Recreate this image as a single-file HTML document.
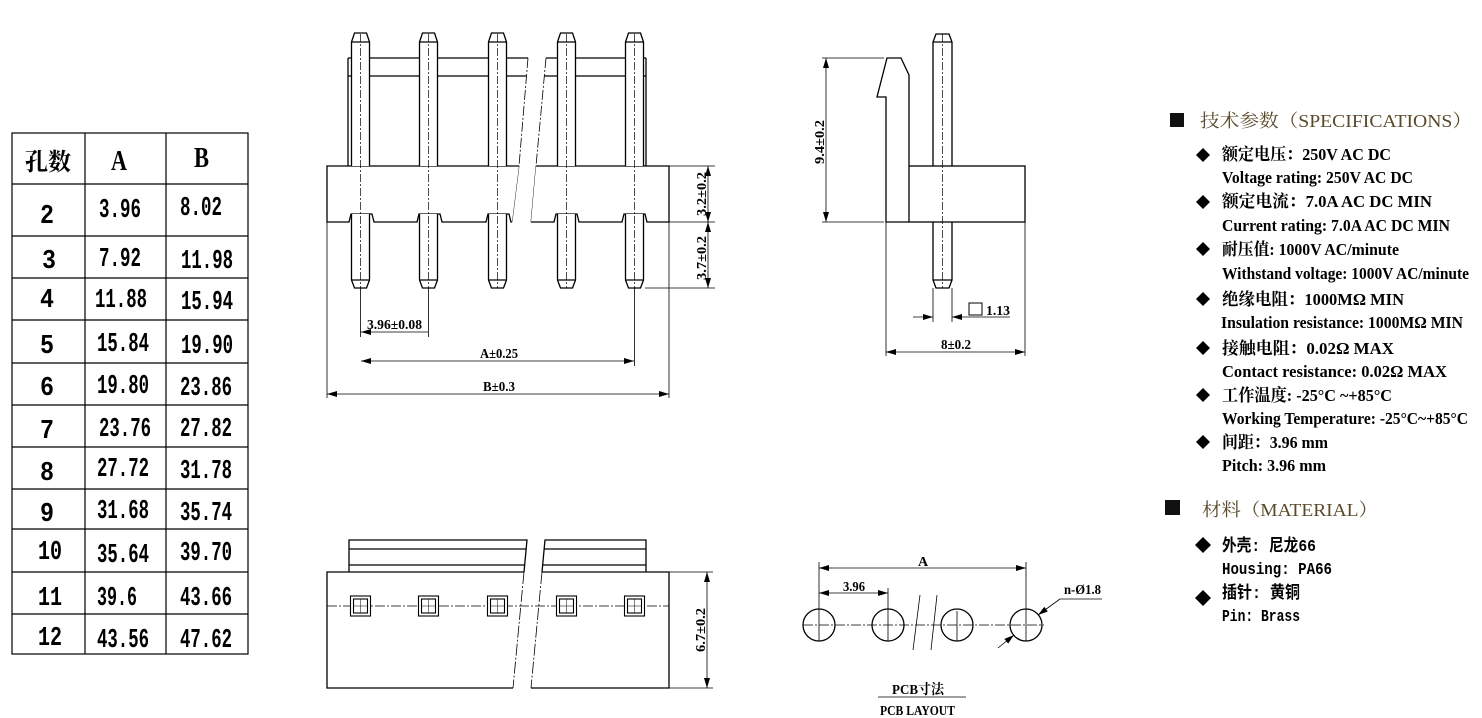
<!DOCTYPE html>
<html><head><meta charset="utf-8"><style>
html,body{margin:0;padding:0;background:#fff;}
svg{display:block;}
.t{font-family:"Liberation Serif","Noto Serif CJK SC","Noto Sans CJK SC",serif;font-weight:bold;fill:#000;}
.m{font-family:"Liberation Mono","Noto Sans CJK SC",monospace;font-weight:bold;fill:#000;}
.c{font-family:"Liberation Serif","Noto Serif CJK SC",serif;fill:#5a4a2a;}
</style></head><body>
<svg width="1482" height="718" viewBox="0 0 1482 718" xmlns="http://www.w3.org/2000/svg">
<defs>
<marker id="ar" viewBox="0 0 10 6" refX="10" refY="3" markerWidth="10" markerHeight="6" orient="auto-start-reverse" markerUnits="userSpaceOnUse"><path d="M0,0 L10,3 L0,6 z" fill="#000"/></marker>
</defs>
<g fill="none" stroke="#000" stroke-width="1.2">
<rect x="12" y="133" width="236" height="521"/>
<line x1="85" y1="133" x2="85" y2="654"/><line x1="166" y1="133" x2="166" y2="654"/>
<path d="M12 184H248M12 236H248M12 278H248M12 320H248M12 363H248M12 405H248M12 447H248M12 489H248M12 529H248M12 572H248M12 614H248"/>
</g>
<g class="t" font-size="28">
<text x="25" y="170" font-size="24" textLength="46" lengthAdjust="spacingAndGlyphs">孔数</text>
<text x="111" y="170" textLength="16" lengthAdjust="spacingAndGlyphs">A</text>
<text x="194" y="167" textLength="15" lengthAdjust="spacingAndGlyphs">B</text>
</g>
<g class="m" font-size="27">
<text x="40" y="223" textLength="14" lengthAdjust="spacingAndGlyphs">2</text><text x="99" y="217" textLength="42" lengthAdjust="spacingAndGlyphs">3.96</text><text x="180" y="215" textLength="42" lengthAdjust="spacingAndGlyphs">8.02</text>
<text x="42" y="268" textLength="14" lengthAdjust="spacingAndGlyphs">3</text><text x="99" y="266" textLength="42" lengthAdjust="spacingAndGlyphs">7.92</text><text x="181" y="268" textLength="52" lengthAdjust="spacingAndGlyphs">11.98</text>
<text x="40" y="307" textLength="14" lengthAdjust="spacingAndGlyphs">4</text><text x="95" y="307" textLength="52" lengthAdjust="spacingAndGlyphs">11.88</text><text x="181" y="309" textLength="52" lengthAdjust="spacingAndGlyphs">15.94</text>
<text x="40" y="353" textLength="14" lengthAdjust="spacingAndGlyphs">5</text><text x="97" y="351" textLength="52" lengthAdjust="spacingAndGlyphs">15.84</text><text x="181" y="353" textLength="52" lengthAdjust="spacingAndGlyphs">19.90</text>
<text x="40" y="395" textLength="14" lengthAdjust="spacingAndGlyphs">6</text><text x="97" y="393" textLength="52" lengthAdjust="spacingAndGlyphs">19.80</text><text x="180" y="395" textLength="52" lengthAdjust="spacingAndGlyphs">23.86</text>
<text x="40" y="438" textLength="14" lengthAdjust="spacingAndGlyphs">7</text><text x="99" y="436" textLength="52" lengthAdjust="spacingAndGlyphs">23.76</text><text x="180" y="436" textLength="52" lengthAdjust="spacingAndGlyphs">27.82</text>
<text x="40" y="480" textLength="14" lengthAdjust="spacingAndGlyphs">8</text><text x="97" y="476" textLength="52" lengthAdjust="spacingAndGlyphs">27.72</text><text x="180" y="478" textLength="52" lengthAdjust="spacingAndGlyphs">31.78</text>
<text x="40" y="521" textLength="14" lengthAdjust="spacingAndGlyphs">9</text><text x="97" y="518" textLength="52" lengthAdjust="spacingAndGlyphs">31.68</text><text x="180" y="520" textLength="52" lengthAdjust="spacingAndGlyphs">35.74</text>
<text x="38" y="559" textLength="24" lengthAdjust="spacingAndGlyphs">10</text><text x="97" y="562" textLength="52" lengthAdjust="spacingAndGlyphs">35.64</text><text x="180" y="560" textLength="52" lengthAdjust="spacingAndGlyphs">39.70</text>
<text x="38" y="605" textLength="24" lengthAdjust="spacingAndGlyphs">11</text><text x="97" y="605" textLength="40" lengthAdjust="spacingAndGlyphs">39.6</text><text x="180" y="605" textLength="52" lengthAdjust="spacingAndGlyphs">43.66</text>
<text x="38" y="645" textLength="24" lengthAdjust="spacingAndGlyphs">12</text><text x="97" y="647" textLength="52" lengthAdjust="spacingAndGlyphs">43.56</text><text x="180" y="647" textLength="52" lengthAdjust="spacingAndGlyphs">47.62</text>
</g>

<!-- FRONT VIEW -->
<g fill="none" stroke="#000" stroke-width="1.3">
<line x1="348" y1="58" x2="348" y2="166"/><line x1="646" y1="58" x2="646" y2="166"/>
<path d="M348 58H528M348 76H526M546 58H646M544 76H646"/>
<line x1="528" y1="58" x2="519" y2="166" stroke-width="0.8" stroke-dasharray="10 2 2 2"/>
<line x1="546" y1="58" x2="536" y2="166" stroke-width="0.8" stroke-dasharray="10 2 2 2"/>
<line x1="519" y1="166" x2="512" y2="222" stroke-width="0.8"/>
<line x1="536" y1="166" x2="531" y2="222" stroke-width="0.8"/>
<path d="M512 222 H511 L509 214 H488 L486 222 H442 L440 214 H419 L417 222 H374 L372 214 H351 L349 222 H327 V166 H519" fill="#fff"/>
<path d="M531 222 H554 L556 214 H577 L579 222 H622 L624 214 H645 L647 222 H669 V166 H536" fill="#fff"/>
</g>
<g fill="#fff" stroke="#000" stroke-width="1.3">
<path d="M351.5 166V42L354.5 33H366.5L369.5 42V166"/><path d="M351.5 42H369.5"/>
<path d="M419.5 166V42L422.5 33H434.5L437.5 42V166"/><path d="M419.5 42H437.5"/>
<path d="M488.5 166V42L491.5 33H503.5L506.5 42V166"/><path d="M488.5 42H506.5"/>
<path d="M557.5 166V42L560.5 33H572.5L575.5 42V166"/><path d="M557.5 42H575.5"/>
<path d="M625.5 166V42L628.5 33H640.5L643.5 42V166"/><path d="M625.5 42H643.5"/>
<path d="M351.5 214V280L354.5 288H366.5L369.5 280V214"/><path d="M351.5 280H369.5"/>
<path d="M419.5 214V280L422.5 288H434.5L437.5 280V214"/><path d="M419.5 280H437.5"/>
<path d="M488.5 214V280L491.5 288H503.5L506.5 280V214"/><path d="M488.5 280H506.5"/>
<path d="M557.5 214V280L560.5 288H572.5L575.5 280V214"/><path d="M557.5 280H575.5"/>
<path d="M625.5 214V280L628.5 288H640.5L643.5 280V214"/><path d="M625.5 280H643.5"/>
</g>
<g stroke="#000" stroke-width="0.7" stroke-dasharray="8 2 2 2" fill="none">
<path d="M360.5 34V288M428.5 34V288M497.5 34V288M566.5 34V288M634.5 34V288"/>
</g>
<g stroke="#000" stroke-width="0.8" fill="none">
<path d="M669 166H715M669 222H715M645 288H715"/>
<line x1="708" y1="166" x2="708" y2="222" marker-start="url(#ar)" marker-end="url(#ar)"/>
<line x1="708" y1="222" x2="708" y2="288" marker-start="url(#ar)" marker-end="url(#ar)"/>
<path d="M360.5 288V337M428.5 288V337M634.5 288V366M327 222V398M669 222V398"/>
<line x1="361" y1="332" x2="428" y2="332" marker-start="url(#ar)"/>
<line x1="361" y1="361" x2="634" y2="361" marker-start="url(#ar)" marker-end="url(#ar)"/>
<line x1="327" y1="394" x2="669" y2="394" marker-start="url(#ar)" marker-end="url(#ar)"/>
</g>
<g class="t" font-size="14">
<text x="367" y="329" textLength="55" lengthAdjust="spacingAndGlyphs">3.96±0.08</text>
<text x="480" y="358" textLength="38" lengthAdjust="spacingAndGlyphs">A±0.25</text>
<text x="483" y="391" textLength="32" lengthAdjust="spacingAndGlyphs">B±0.3</text>
<text transform="translate(706,216) rotate(-90)" textLength="44" lengthAdjust="spacingAndGlyphs">3.2±0.2</text>
<text transform="translate(706,280) rotate(-90)" textLength="44" lengthAdjust="spacingAndGlyphs">3.7±0.2</text>
</g>

<!-- SIDE VIEW -->
<g fill="none" stroke="#000" stroke-width="1.3">
<path d="M933 166V42L936 34H949L952 42V166M933 42H952"/>
<path d="M933 222V280L936 288H949L952 280V222M933 280H952"/>
<rect x="909" y="166" width="116" height="56"/>
<path d="M909 222H886V97H877L887 58H901L909 75V166"/>
</g>
<line x1="942.5" y1="34" x2="942.5" y2="288" stroke="#000" stroke-width="0.7" stroke-dasharray="8 2 2 2"/>
<g stroke="#000" stroke-width="0.8" fill="none">
<path d="M822 58H884M822 222H884"/>
<line x1="826" y1="58" x2="826" y2="222" marker-start="url(#ar)" marker-end="url(#ar)"/>
<path d="M933 288V322M952 288V322M886 222V356M1025 222V356"/>
<line x1="913" y1="317" x2="933" y2="317" marker-end="url(#ar)"/>
<line x1="1010" y1="317" x2="952" y2="317" marker-end="url(#ar)"/>
<line x1="886" y1="352" x2="1025" y2="352" marker-start="url(#ar)" marker-end="url(#ar)"/>
<rect x="969" y="303" width="13" height="12" stroke-width="1"/>
</g>
<g class="t" font-size="14">
<text x="986" y="315" textLength="24" lengthAdjust="spacingAndGlyphs">1.13</text>
<text x="941" y="349" textLength="30" lengthAdjust="spacingAndGlyphs">8±0.2</text>
<text transform="translate(824,164) rotate(-90)" textLength="44" lengthAdjust="spacingAndGlyphs">9.4±0.2</text>
</g>

<!-- BOTTOM VIEW -->
<g fill="none" stroke="#000" stroke-width="1.3">
<path d="M349 572V540H527L524 572M349 549H526M349 565H525"/>
<path d="M542 572L545 540H646V572M544 549H646M543 565H646"/>
<path d="M524 572H327V688H513"/>
<path d="M542 572H669V688H531"/>
<line x1="542" y1="572" x2="531" y2="688" stroke-width="0.8" stroke-dasharray="12 2 2 2"/>
<line x1="524" y1="572" x2="513" y2="688" stroke-width="0.8" stroke-dasharray="12 2 2 2"/>
</g>
<line x1="327" y1="606" x2="669" y2="606" stroke="#000" stroke-width="0.7" stroke-dasharray="10 2 2 2"/>
<g fill="#fff" stroke="#000" stroke-width="1.1">
<rect x="350.5" y="596" width="20" height="20"/><rect x="353.5" y="599" width="14" height="14"/>
<rect x="418.5" y="596" width="20" height="20"/><rect x="421.5" y="599" width="14" height="14"/>
<rect x="487.5" y="596" width="20" height="20"/><rect x="490.5" y="599" width="14" height="14"/>
<rect x="556.5" y="596" width="20" height="20"/><rect x="559.5" y="599" width="14" height="14"/>
<rect x="624.5" y="596" width="20" height="20"/><rect x="627.5" y="599" width="14" height="14"/>
</g>
<g stroke="#000" stroke-width="0.5" fill="none">
<path d="M360.5 599V613M353.5 606H367.5M428.5 599V613M421.5 606H435.5M497.5 599V613M490.5 606H504.5M566.5 599V613M559.5 606H573.5M634.5 599V613M627.5 606H641.5"/>
</g>
<g stroke="#000" stroke-width="0.8" fill="none">
<path d="M669 572H713M669 688H713"/>
<line x1="707" y1="572" x2="707" y2="688" marker-start="url(#ar)" marker-end="url(#ar)"/>
</g>
<text class="t" font-size="14" transform="translate(705,652) rotate(-90)" textLength="44" lengthAdjust="spacingAndGlyphs">6.7±0.2</text>

<!-- PCB LAYOUT -->
<g fill="none" stroke="#000" stroke-width="1.3">
<circle cx="819" cy="625" r="16"/><circle cx="888" cy="625" r="16"/><circle cx="957" cy="625" r="16"/><circle cx="1026" cy="625" r="16"/>
</g>
<g fill="none" stroke="#000" stroke-width="0.8">
<line x1="803" y1="625" x2="1044" y2="625" stroke-dasharray="10 2 2 2"/>
<path d="M819 562V641M888 588V641M957 611V641M1026 562V641"/>
<line x1="819" y1="568" x2="1026" y2="568" marker-start="url(#ar)" marker-end="url(#ar)"/>
<line x1="819" y1="593" x2="888" y2="593" marker-start="url(#ar)" marker-end="url(#ar)"/>
<line x1="920" y1="595" x2="913" y2="650"/><line x1="937" y1="595" x2="931" y2="650"/>
<line x1="998" y1="648" x2="1014" y2="635" marker-end="url(#ar)"/>
<line x1="1060" y1="599" x2="1038" y2="615" marker-end="url(#ar)"/>
<path d="M1060 599H1102"/>
<line x1="878" y1="697" x2="966" y2="697"/>
</g>
<g class="t" font-size="14">
<text x="918" y="566">A</text>
<text x="843" y="591" textLength="22" lengthAdjust="spacingAndGlyphs">3.96</text>
<text x="1064" y="594" textLength="37" lengthAdjust="spacingAndGlyphs">n-Ø1.8</text>
<text x="892" y="694" textLength="52" lengthAdjust="spacingAndGlyphs">PCB寸法</text>
<text x="880" y="715" textLength="75" lengthAdjust="spacingAndGlyphs">PCB LAYOUT</text>
</g>

<!-- SPECS -->
<rect x="1170" y="113" width="14" height="14" fill="#111"/>
<text class="c" x="1200" y="127" font-size="18" textLength="272" lengthAdjust="spacingAndGlyphs">技术参数（SPECIFICATIONS）</text>
<g fill="#000">
<path d="M1203 148l7 7-7 7-7-7z"/><path d="M1203 195l7 7-7 7-7-7z"/><path d="M1203 242l7 7-7 7-7-7z"/>
<path d="M1203 292l7 7-7 7-7-7z"/><path d="M1203 341l7 7-7 7-7-7z"/><path d="M1203 388l7 7-7 7-7-7z"/><path d="M1203 435l7 7-7 7-7-7z"/>
</g>
<g class="t" font-size="17">
<text x="1222" y="160" textLength="169" lengthAdjust="spacingAndGlyphs">额定电压：250V AC DC</text>
<text x="1222" y="183" textLength="191" lengthAdjust="spacingAndGlyphs">Voltage rating: 250V AC DC</text>
<text x="1222" y="207" textLength="210" lengthAdjust="spacingAndGlyphs">额定电流：7.0A AC DC   MIN</text>
<text x="1222" y="231" textLength="228" lengthAdjust="spacingAndGlyphs">Current rating: 7.0A  AC DC  MIN</text>
<text x="1222" y="255" textLength="177" lengthAdjust="spacingAndGlyphs">耐压值: 1000V AC/minute</text>
<text x="1222" y="279" textLength="247" lengthAdjust="spacingAndGlyphs">Withstand voltage: 1000V AC/minute</text>
<text x="1222" y="305" textLength="182" lengthAdjust="spacingAndGlyphs">绝缘电阻：1000MΩ  MIN</text>
<text x="1221" y="328" textLength="242" lengthAdjust="spacingAndGlyphs">Insulation resistance: 1000MΩ  MIN</text>
<text x="1222" y="354" textLength="172" lengthAdjust="spacingAndGlyphs">接触电阻：0.02Ω  MAX</text>
<text x="1222" y="377" textLength="225" lengthAdjust="spacingAndGlyphs">Contact resistance:   0.02Ω  MAX</text>
<text x="1222" y="401" textLength="170" lengthAdjust="spacingAndGlyphs">工作温度: -25°C ~+85°C</text>
<text x="1222" y="424" textLength="246" lengthAdjust="spacingAndGlyphs">Working Temperature: -25°C~+85°C</text>
<text x="1222" y="448" textLength="106" lengthAdjust="spacingAndGlyphs">间距：3.96 mm</text>
<text x="1222" y="471" textLength="104" lengthAdjust="spacingAndGlyphs">Pitch:  3.96 mm</text>
</g>
<rect x="1165" y="500" width="15" height="15" fill="#111"/>
<text class="c" x="1202" y="516" font-size="18" textLength="176" lengthAdjust="spacingAndGlyphs">材料（MATERIAL）</text>
<g fill="#000"><path d="M1203 537l8 8-8 8-8-8z"/><path d="M1203 590l8 8-8 8-8-8z"/></g>
<g class="m" font-size="17">
<text x="1222" y="551" textLength="94" lengthAdjust="spacingAndGlyphs">外壳: 尼龙66</text>
<text x="1222" y="574" textLength="110" lengthAdjust="spacingAndGlyphs">Housing:  PA66</text>
<text x="1222" y="598" textLength="78" lengthAdjust="spacingAndGlyphs">插针: 黄铜</text>
<text x="1222" y="621" textLength="78" lengthAdjust="spacingAndGlyphs">Pin: Brass</text>
</g>
</svg>
</body></html>
